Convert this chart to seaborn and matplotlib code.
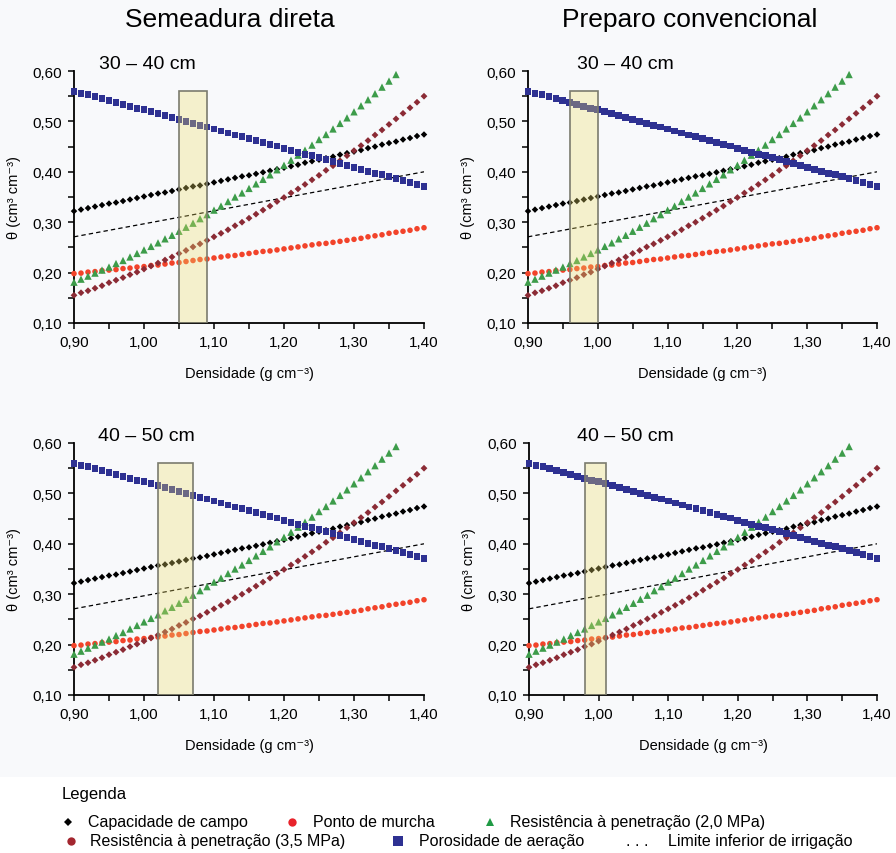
import matplotlib
matplotlib.use("Agg")
import matplotlib.pyplot as plt
from matplotlib.patches import Rectangle
from matplotlib.lines import Line2D
from matplotlib.ticker import AutoMinorLocator
import seaborn as sns

# Densidade do solo (g cm-3) - um ponto a cada 0,01
densidade = [0.90, 0.91, 0.92, 0.93, 0.94, 0.95, 0.96, 0.97, 0.98, 0.99,
             1.00, 1.01, 1.02, 1.03, 1.04, 1.05, 1.06, 1.07, 1.08, 1.09,
             1.10, 1.11, 1.12, 1.13, 1.14, 1.15, 1.16, 1.17, 1.18, 1.19,
             1.20, 1.21, 1.22, 1.23, 1.24, 1.25, 1.26, 1.27, 1.28, 1.29,
             1.30, 1.31, 1.32, 1.33, 1.34, 1.35, 1.36, 1.37, 1.38, 1.39,
             1.40]

cap_campo = [0.322, 0.325, 0.328, 0.331, 0.334, 0.337, 0.339, 0.342, 0.345, 0.348,
             0.351, 0.354, 0.357, 0.359, 0.362, 0.365, 0.368, 0.371, 0.373, 0.376,
             0.379, 0.382, 0.385, 0.388, 0.391, 0.393, 0.396, 0.399, 0.402, 0.405,
             0.408, 0.411, 0.414, 0.418, 0.421, 0.424, 0.427, 0.430, 0.434, 0.437,
             0.440, 0.443, 0.447, 0.450, 0.454, 0.457, 0.460, 0.464, 0.467, 0.471,
             0.474]

ponto_murcha = [0.198, 0.199, 0.201, 0.202, 0.204, 0.205, 0.206, 0.208, 0.209, 0.211,
                0.212, 0.214, 0.215, 0.217, 0.219, 0.220, 0.222, 0.224, 0.226, 0.227,
                0.229, 0.231, 0.233, 0.234, 0.236, 0.238, 0.240, 0.242, 0.243, 0.245,
                0.247, 0.249, 0.251, 0.253, 0.255, 0.257, 0.258, 0.260, 0.262, 0.264,
                0.266, 0.268, 0.271, 0.273, 0.275, 0.278, 0.280, 0.282, 0.284, 0.287,
                0.289]

# resistencia 2,0 MPa vai so ate 1,36
resist_20 = [0.181, 0.187, 0.193, 0.199, 0.205, 0.211, 0.218, 0.224, 0.231, 0.238,
             0.245, 0.252, 0.259, 0.267, 0.274, 0.282, 0.290, 0.298, 0.307, 0.315,
             0.324, 0.332, 0.341, 0.350, 0.358, 0.367, 0.376, 0.385, 0.394, 0.404,
             0.413, 0.423, 0.433, 0.443, 0.453, 0.464, 0.474, 0.485, 0.496, 0.507,
             0.519, 0.531, 0.543, 0.555, 0.568, 0.580, 0.593]

resist_35 = [0.155, 0.160, 0.164, 0.169, 0.174, 0.180, 0.185, 0.190, 0.196, 0.201,
             0.207, 0.213, 0.219, 0.225, 0.231, 0.238, 0.244, 0.251, 0.257, 0.264,
             0.271, 0.278, 0.285, 0.293, 0.300, 0.308, 0.316, 0.324, 0.332, 0.341,
             0.349, 0.358, 0.366, 0.375, 0.384, 0.393, 0.403, 0.412, 0.422, 0.432,
             0.442, 0.452, 0.462, 0.473, 0.483, 0.494, 0.505, 0.516, 0.527, 0.538,
             0.550]

porosidade = [0.560, 0.556, 0.553, 0.549, 0.545, 0.541, 0.537, 0.534, 0.530, 0.526,
              0.523, 0.519, 0.515, 0.511, 0.507, 0.504, 0.500, 0.496, 0.492, 0.489,
              0.485, 0.481, 0.477, 0.473, 0.470, 0.466, 0.462, 0.458, 0.454, 0.451,
              0.447, 0.443, 0.439, 0.435, 0.432, 0.428, 0.424, 0.420, 0.416, 0.413,
              0.409, 0.405, 0.401, 0.397, 0.394, 0.390, 0.386, 0.382, 0.378, 0.375,
              0.371]

limite_x = [0.90, 1.40]
limite_y = [0.271, 0.400]

titulos = ["Semeadura direta", "Preparo convencional"]
camadas = ["30 – 40 cm", "40 – 50 cm"]
# faixa de densidade destacada (inicio, fim) por painel
faixas = [[(1.05, 1.09), (0.96, 1.00)],
          [(1.02, 1.07), (0.98, 1.01)]]
faixa_base = 0.10
faixa_topo = 0.56

xticks = [0.90, 1.00, 1.10, 1.20, 1.30, 1.40]
xtick_labels = ["0,90", "1,00", "1,10", "1,20", "1,30", "1,40"]
yticks = [0.10, 0.20, 0.30, 0.40, 0.50, 0.60]
ytick_labels = ["0,10", "0,20", "0,30", "0,40", "0,50", "0,60"]

legenda_labels = ["Capacidade de campo", "Ponto de murcha",
                  "Resistência à penetração (2,0 MPa)",
                  "Resistência à penetração (3,5 MPa)",
                  "Porosidade de aeração", "Limite inferior de irrigação"]

sns.set_theme(style="ticks")
plt.rcParams['font.family'] = ['Liberation Sans', 'DejaVu Sans']
plt.rcParams['text.color'] = 'black'
plt.rcParams['axes.labelcolor'] = 'black'
plt.rcParams['xtick.color'] = 'black'
plt.rcParams['ytick.color'] = 'black'

W, H = 896, 854
fig = plt.figure(figsize=(W / 100, H / 100), dpi=100)
fig.patch.set_facecolor('#f8f9fb')
fig.add_artist(Rectangle((0, 0), 1, 1 - 778 / H, transform=fig.transFigure,
                         facecolor='white', edgecolor='none', zorder=-5))

# series: (valores, marcador, cor, tamanho)
series = [
    (cap_campo, 'D', '#000000', 11),
    (ponto_murcha, 'o', '#f2432a', 16),
    (resist_20, '^', '#3d9c4a', 28),
    (resist_35, 'D', '#8b2b35', 12),
    (porosidade, 's', '#2e3192', 24),
]

# posicao dos eixos em pixels: (esquerda, direita, topo, base)
caixas = [[(74, 424, 72, 324), (528, 877, 72, 324)],
          [(74, 424, 444, 696), (529, 877, 444, 696)]]
sub_x = [[0.072, 0.14], [0.068, 0.138]]

for i in range(2):
    for j in range(2):
        l, r, t, b = caixas[i][j]
        ax = fig.add_axes([l / W, 1 - b / H, (r - l) / W, (b - t) / H])
        ax.set_facecolor('none')

        sns.lineplot(x=limite_x, y=limite_y, color='black', lw=0.9,
                     linestyle=(0, (3.5, 2.5)), ax=ax, zorder=2)
        for vals, mk, cor, tam in series:
            sns.scatterplot(x=densidade[:len(vals)], y=vals, marker=mk, color=cor,
                            s=tam, linewidth=0, edgecolor='none', ax=ax,
                            clip_on=False, zorder=3)

        x0, x1 = faixas[i][j]
        ax.add_patch(Rectangle((x0, faixa_base), x1 - x0, faixa_topo - faixa_base,
                               facecolor=(0.933, 0.871, 0.412, 0.32),
                               edgecolor='#7b7b6e', lw=1.2, zorder=4))

        ax.set_xlim(0.90, 1.40)
        ax.set_ylim(0.10, 0.60)
        ax.set_xticks(xticks)
        ax.set_xticklabels(xtick_labels)
        ax.set_yticks(yticks)
        ax.set_yticklabels(ytick_labels)
        ax.xaxis.set_minor_locator(AutoMinorLocator(2))
        ax.yaxis.set_minor_locator(AutoMinorLocator(2))
        ax.tick_params(which='both', direction='out', length=4, width=1.1,
                       color='black', labelsize=11, pad=5)
        sns.despine(ax=ax)
        for sp in ['left', 'bottom']:
            ax.spines[sp].set_linewidth(1.3)
            ax.spines[sp].set_color('black')
        ax.set_xlabel("Densidade (g cm⁻³)", fontsize=10.5, labelpad=12)
        ax.set_ylabel("θ (cm³ cm⁻³)", fontsize=10.5, labelpad=8)
        ax.text(sub_x[i][j], 1.028, camadas[i], transform=ax.transAxes,
                fontsize=14, ha='left', va='center')

fig.text(230 / W, 1 - 20 / H, titulos[0], fontsize=19, ha='center', va='center')
fig.text(690 / W, 1 - 20 / H, titulos[1], fontsize=19, ha='center', va='center')

# legenda manual
fig.text(62 / W, 1 - 795 / H, "Legenda", fontsize=12, ha='left', va='center')
leg_itens = [
    ('D', '#000000', 4, 68, 823, 88),
    ('o', '#e8232b', 6, 292, 823, 313),
    ('^', '#1f9a45', 6, 490, 823, 510),
    ('o', '#a3262f', 6, 71, 842, 90),
    ('s', '#2e3192', 7, 398, 842, 419),
]
for k, (mk, cor, ms, xm, y, xt) in enumerate(leg_itens):
    fig.add_artist(Line2D([xm / W], [1 - y / H], marker=mk, color=cor, ms=ms,
                          mew=0, ls='none', transform=fig.transFigure))
    fig.text(xt / W, 1 - y / H, legenda_labels[k], fontsize=11.5,
             ha='left', va='center')
fig.text(626 / W, 1 - 842 / H, ". . .", fontsize=11.5, ha='left', va='center')
fig.text(668 / W, 1 - 842 / H, legenda_labels[5], fontsize=11.5,
         ha='left', va='center')

fig.savefig("out.png", dpi=100, facecolor=fig.get_facecolor())
